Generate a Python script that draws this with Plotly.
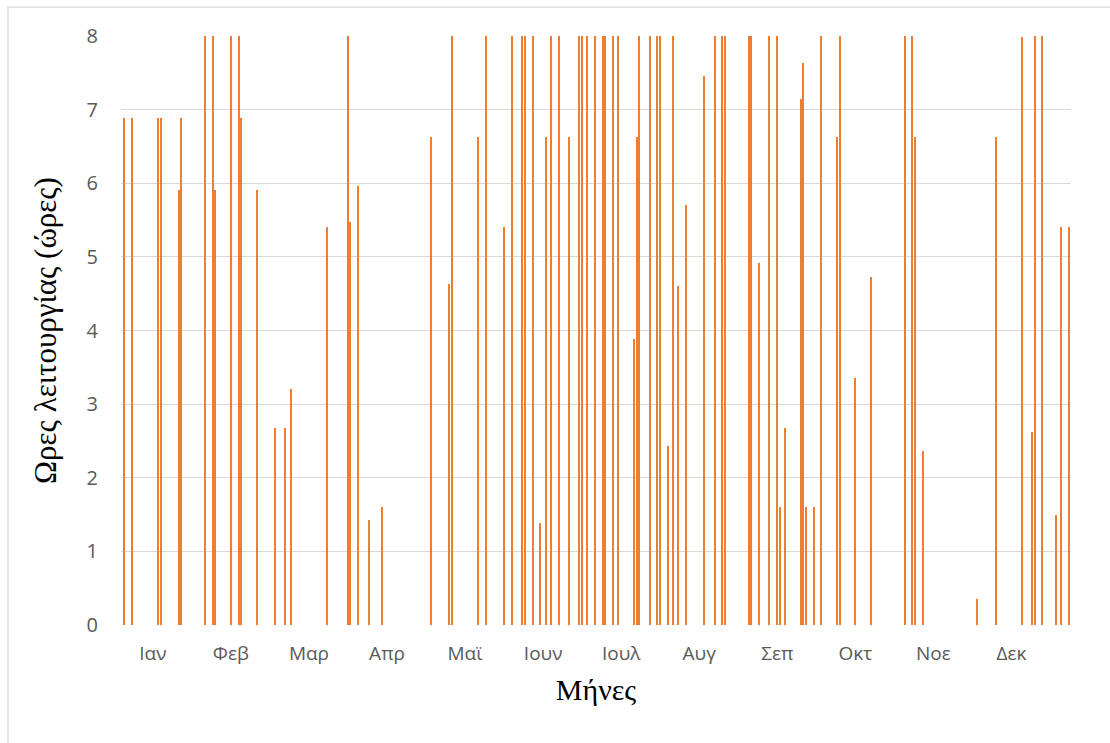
import plotly.graph_objects as go

# Day-of-year index (0 = first day) and operating hours
days = [0, 3, 13, 14, 21, 22, 31, 34, 35, 41, 44, 45, 51, 58, 62, 64, 78, 86, 87, 90,
        94, 99, 118, 125, 126, 136, 139, 146, 149, 153, 154, 157, 160, 162, 164, 167,
        171, 175, 176, 178, 181, 184, 185, 188, 190, 196, 197, 198, 202, 205, 206, 209,
        211, 213, 216, 223, 227, 230, 231, 240, 241, 244, 248, 251, 252, 254, 260, 261,
        262, 265, 268, 274, 275, 281, 287, 300, 303, 304, 307, 328, 335, 345, 349, 350,
        353, 358, 360, 363]
hours = [6.89, 6.89, 6.89, 6.89, 5.91, 6.89, 8, 8, 5.91, 8, 8, 6.89, 5.91, 2.67, 2.67, 3.21,
         5.41, 8, 5.47, 5.96,
         1.42, 1.60, 6.63, 4.63, 8, 6.63, 8, 5.41, 8, 8, 8, 8, 1.39, 6.63, 8, 8,
         6.63, 8, 8, 8, 8, 8, 8, 8, 8, 3.88, 6.63, 8, 8, 8, 8, 2.43,
         8, 4.61, 5.71, 7.46, 8, 8, 8, 8, 8, 4.92, 8, 8, 1.60, 2.67, 7.15, 7.63,
         1.60, 1.60, 8, 6.63, 8, 3.35, 4.73, 8, 8, 6.63, 2.37, 0.35, 6.63, 7.98, 2.62, 8,
         8, 1.49, 5.41, 5.41]

month_labels = ["Ιαν", "Φεβ", "Μαρ", "Απρ", "Μαϊ", "Ιουν",
                "Ιουλ", "Αυγ", "Σεπ", "Οκτ", "Νοε", "Δεκ"]
month_label_days = [11, 41, 71, 101, 131, 161, 191, 221, 251, 281, 311, 341]

fig = go.Figure()
fig.add_trace(go.Bar(
    x=days, y=hours, width=0.5,
    marker=dict(color="#ED7D31", line=dict(width=0)),
    showlegend=False,
))

fig.update_layout(
    width=1110, height=743,
    margin=dict(l=121, r=39, t=36, b=118),
    paper_bgcolor="white", plot_bgcolor="white",
    bargap=0,
    xaxis=dict(
        range=[-1.25, 363.9],
        tickmode="array", tickvals=month_label_days, ticktext=month_labels,
        showgrid=False, zeroline=False, showline=False, ticks="",
        tickfont=dict(family="Open Sans", size=19, color="#595959"),
        ticklabelstandoff=15,
        title=dict(text="Μήνες", font=dict(family="Liberation Serif", size=30, color="black"),
                   standoff=13),
    ),
    yaxis=dict(
        range=[0, 8], dtick=1, tick0=0,
        showgrid=True, gridcolor="#d9d9d9", gridwidth=1.3,
        zeroline=False, showline=False, ticks="",
        tickfont=dict(family="Open Sans", size=20, color="#595959"),
        ticklabelstandoff=22,
        title=dict(text="Ωρες λειτουργίας (ώρες)",
                   font=dict(family="Liberation Serif", size=31, color="black"),
                   standoff=20),
    ),
    shapes=[dict(type="rect", xref="paper", yref="paper",
                 x0=-0.119, x1=1.05, y0=-0.25, y1=1.049,
                 line=dict(color="#d9d9d9", width=1.3), layer="below")],
)

fig.write_html("out.html")
